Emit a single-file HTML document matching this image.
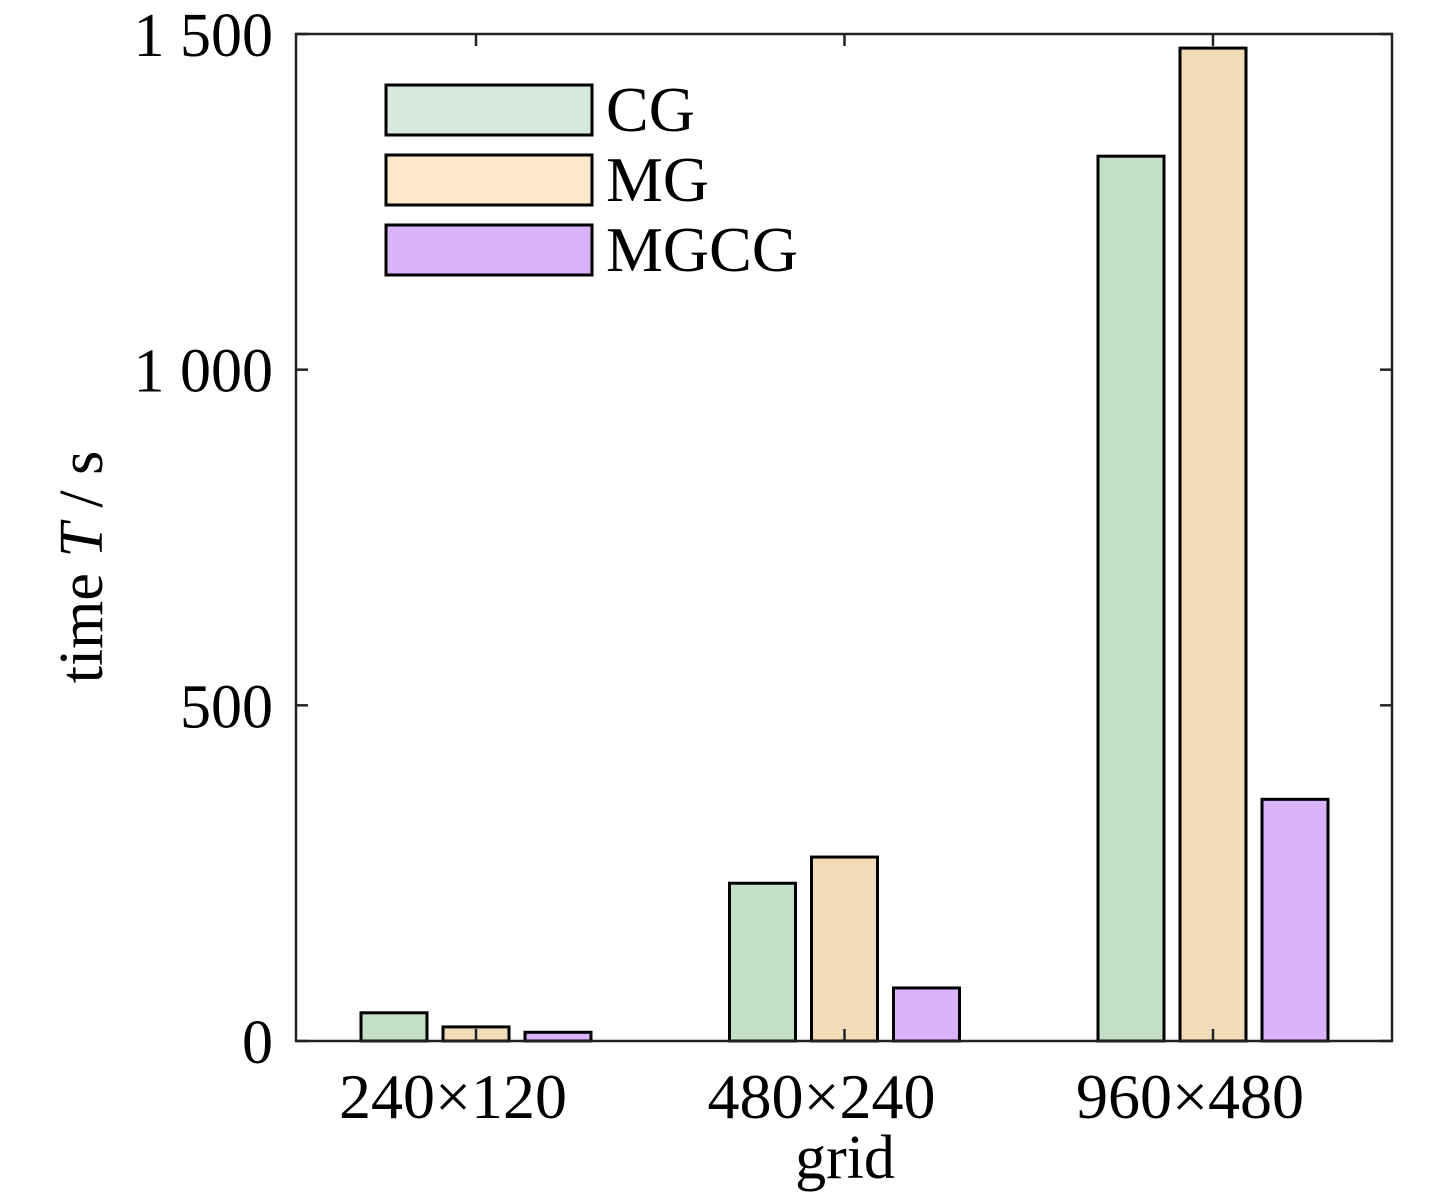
<!DOCTYPE html>
<html><head><meta charset="utf-8"><style>
html,body{margin:0;padding:0;background:#fff;}
svg{display:block;font-family:"Liberation Serif",serif;}
</style></head><body>
<svg id="chart" width="1455" height="1204" viewBox="0 0 1455 1204">
<g id="bars"></g>
<g id="axes"></g>
<g id="legend"></g>
<text x="0" y="0" transform="translate(102,567) rotate(-90)" text-anchor="middle" font-size="62">time <tspan font-style="italic">T</tspan> / s</text>
<text x="845" y="1178" text-anchor="middle" font-size="62">grid</text>
</svg>
<script>
const categories = ["240×120", "480×240", "960×480"];
const seriesNames = ["CG", "MG", "MGCG"];
const cgValues = [42, 235, 1318];
const mgValues = [21, 274, 1479];
const mgcgValues = [13, 79, 360];
const yTicks = [0, 500, 1000, 1500];
const yTickLabels = ["0", "500", "1 000", "1 500"];

const NS = "http://www.w3.org/2000/svg";
const L = 296, R = 1392, T = 34, B = 1041;
const yMax = 1500;
function y(v){ return B - (v / yMax) * (B - T); }
function xCenter(i){ return 476 + i * 368.5; }
const barW = 66, offs = [-82, 0, 82];
const fills = ["#c3dfc8", "#f2dcb8", "#d9b3fb"];
const legendFills = ["#d5e9dc", "#fde9c9", "#d9b3fb"];
const series = [cgValues, mgValues, mgcgValues];

function mk(tag, attrs, parent){
  const e = document.createElementNS(NS, tag);
  for (const k in attrs) e.setAttribute(k, attrs[k]);
  parent.appendChild(e);
  return e;
}
const gb = document.getElementById("bars");
series.forEach((vals, s) => {
  vals.forEach((v, i) => {
    const cx = xCenter(i) + offs[s];
    const r = mk("rect", {x: cx - barW/2, y: y(v), width: barW, height: B - y(v), fill: fills[s], stroke: "#000", "stroke-width": 3}, gb);
    
    
  });
});

const ga = document.getElementById("axes");
const frame = mk("rect", {x: L, y: T, width: R - L, height: B - T, fill: "none", stroke: "#222", "stroke-width": 2.5}, ga);


yTicks.forEach((v, i) => {
  mk("line", {x1: L, x2: L + 12, y1: y(v), y2: y(v), stroke: "#222", "stroke-width": 2.5}, ga);
  mk("line", {x1: R, x2: R - 12, y1: y(v), y2: y(v), stroke: "#222", "stroke-width": 2.5}, ga);
  const t = mk("text", {x: 273, y: y(v) + 22, "text-anchor": "end", "font-size": 62}, ga);
  t.textContent = yTickLabels[i];
  
  
});
categories.forEach((c, i) => {
  const x = xCenter(i);
  mk("line", {x1: x, x2: x, y1: B, y2: B - 12, stroke: "#222", "stroke-width": 2.5}, ga);
  mk("line", {x1: x, x2: x, y1: T, y2: T + 12, stroke: "#222", "stroke-width": 2.5}, ga);
  const t = mk("text", {x: x - 23, y: 1118, "text-anchor": "middle", "font-size": 64}, ga);
  t.textContent = c;
  
  
});

const gl = document.getElementById("legend");
seriesNames.forEach((n, s) => {
  const yy = 85 + s * 70;
  const r = mk("rect", {x: 386, y: yy, width: 206, height: 50, fill: legendFills[s], stroke: "#000", "stroke-width": 3}, gl);
  
  
  const t = mk("text", {x: 606, y: yy + 46, "font-size": 64}, gl);
  t.textContent = n;
  
  
});
</script>
</body></html>
